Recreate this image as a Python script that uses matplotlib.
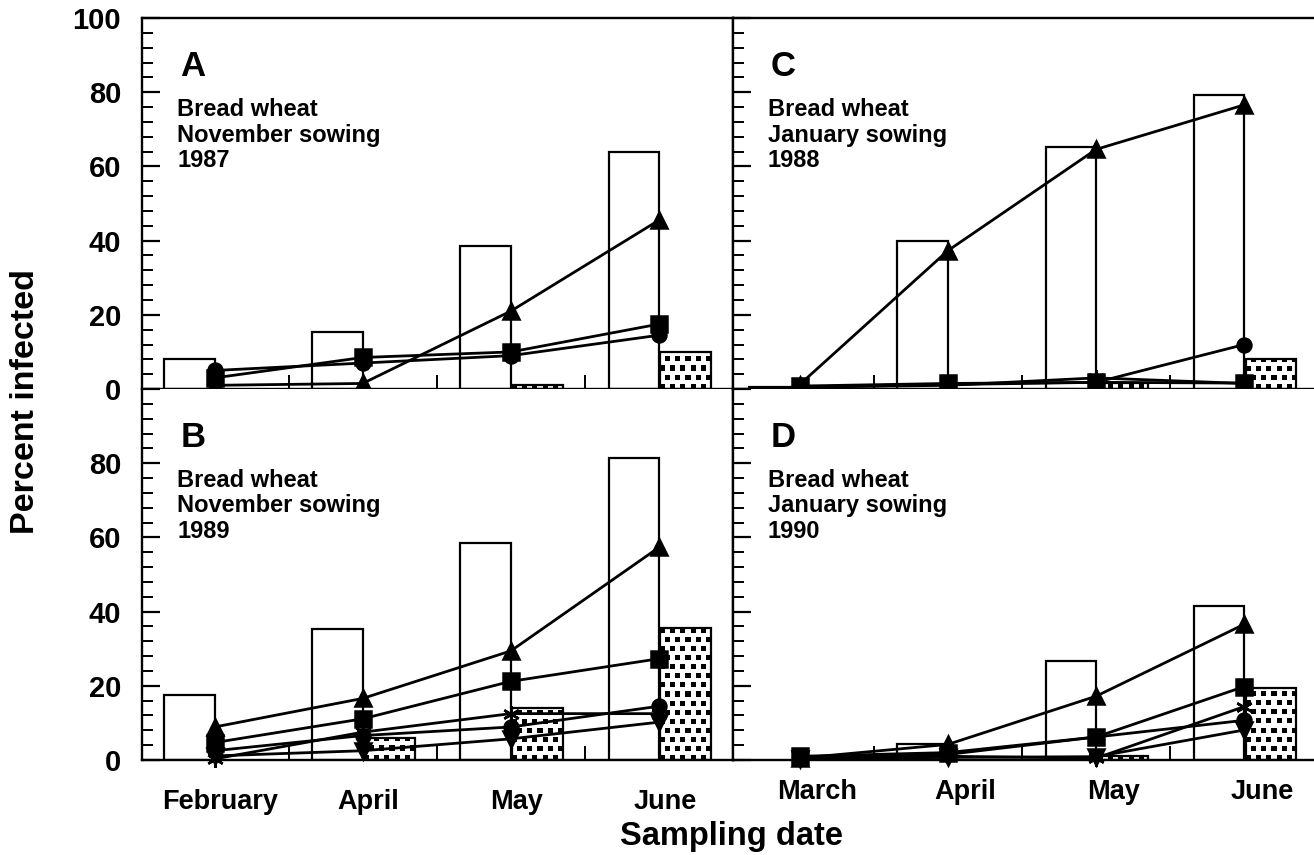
import numpy as np
import matplotlib
matplotlib.use('Agg')
import matplotlib.pyplot as plt

plt.rcParams['font.family'] = ['Liberation Sans', 'DejaVu Sans']
plt.rcParams['font.weight'] = 'bold'

months_nov = ['February', 'April', 'May', 'June']
months_jan = ['March', 'April', 'May', 'June']

# A: bread wheat, November sowing 1987
a_open = [8, 15.5, 38.5, 64]
a_stip = [0, 0, 1, 10]
a_tri = [1, 1.5, 21, 45.5]
a_sq = [3, 8.5, 10, 17.5]
a_circ = [5, 7, 9, 14.5]

# B: bread wheat, November sowing 1989
b_open = [17.4, 35.4, 58.6, 81.4]
b_stip = [0, 6, 14, 35.7]
b_tri = [8.9, 16.6, 29.4, 57.3]
b_sq = [4.7, 11.1, 21.2, 27.3]
b_circ = [2.5, 6.6, 8.9, 14.5]
b_star = [0.3, 7.5, 12.5, 12.5]
b_down = [1.1, 2.5, 5.7, 10.2]

# C: bread wheat, January sowing 1988
c_open = [0.5, 39.8, 65.3, 79.2]
c_stip = [0, 0, 1.5, 8]
c_tri = [1.2, 37.3, 64.6, 76.6]
c_sq = [0.8, 1.5, 1.8, 1.6]
c_circ = [0.5, 1.2, 1.8, 12]
c_star = [0.5, 1, 3, 1.5]

# D: bread wheat, January sowing 1990
d_open = [0, 4.3, 26.8, 41.4]
d_stip = [0, 0, 1.2, 19.5]
d_tri = [0.5, 4.2, 17.2, 36.6]
d_sq = [1, 2, 6.2, 19.8]
d_circ = [0.5, 1.5, 6.2, 10.7]
d_star = [0.3, 1, 0.5, 14.4]
d_down = [0.3, 0.7, 0.9, 8.1]

panels = [
    ('A', 'Bread wheat\nNovember sowing\n1987', months_nov, a_open, a_stip,
     [('^', a_tri), ('s', a_sq), ('o', a_circ)]),
    ('B', 'Bread wheat\nNovember sowing\n1989', months_nov, b_open, b_stip,
     [('^', b_tri), ('s', b_sq), ('o', b_circ), ((6, 2, 0), b_star), ('v', b_down)]),
    ('C', 'Bread wheat\nJanuary sowing\n1988', months_jan, c_open, c_stip,
     [('^', c_tri), ('s', c_sq), ('o', c_circ), ((6, 2, 0), c_star)]),
    ('D', 'Bread wheat\nJanuary sowing\n1990', months_jan, d_open, d_stip,
     [('^', d_tri), ('s', d_sq), ('o', d_circ), ((6, 2, 0), d_star), ('v', d_down)]),
]

fig = plt.figure(figsize=(13.14, 8.55), dpi=100)
L, M, R = 0.1081, 0.5578, 1.0
B, H, T = 0.1111, 0.5450, 0.9789
axes = [fig.add_axes([L, H, M - L, T - H]),
        fig.add_axes([L, B, M - L, H - B]),
        fig.add_axes([M, H, R - M, T - H]),
        fig.add_axes([M, B, R - M, H - B])]
xlims = [(-0.49, 3.5), (-0.49, 3.5), (-0.45, 3.47), (-0.45, 3.47)]
label_shift = [0.04, 0.04, 0.12, 0.12]
bw = 0.34


def stipple_bar(ax, x0, w, h):
    ax.bar(x0, h, w, align='edge', facecolor='white', edgecolor='none', zorder=2)
    p0 = ax.transData.transform((x0, 0))
    p1 = ax.transData.transform((x0 + w, h))
    nx = max(int(round(p1[0] - p0[0])), 1)
    ny = max(int(round(p1[1] - p0[1])), 1)
    yy, xx = np.mgrid[0:ny, 0:nx]
    shift = ((yy // 9) % 2) * 5
    dots = (((xx + shift) % 10) < 5) & ((yy % 9) < 5)
    dots = dots[::-1]
    ax.imshow(~dots, cmap='gray', vmin=0, vmax=1, extent=(x0, x0 + w, 0, h),
              aspect='auto', interpolation='nearest', zorder=2.2)
    ax.bar(x0, h, w, align='edge', fill=False, edgecolor='black', lw=1.6, zorder=2.4)


for k, (ax, (letter, desc, months, opn, stp, series)) in enumerate(zip(axes, panels)):
    x = np.arange(len(months))
    ax.set_xlim(*xlims[k])
    ax.set_ylim(0, 100)
    for i in x:
        if opn[i] > 0:
            ax.bar(i - bw, opn[i], bw, align='edge', facecolor='white',
                   edgecolor='black', lw=1.6, zorder=2)
        if stp[i] > 0:
            stipple_bar(ax, i + 0.01, bw, stp[i])
    for mk, vals in series:
        ms = 10 if mk == 'o' else 12
        ax.plot(x, vals, color='black', lw=2.0, marker=mk, ms=ms, mew=1.8,
                mfc='black', mec='black', zorder=4, clip_on=False)
    ax.set_xlim(*xlims[k])
    ax.set_ylim(0, 100)

    ax.text(0.065, 0.845, letter, transform=ax.transAxes, fontsize=25,
            fontweight='bold', va='baseline', ha='left')
    ax.text(0.06, 0.785, desc, transform=ax.transAxes, fontsize=17,
            fontweight='bold', va='top', ha='left', linespacing=1.15)

    ax.set_yticks(range(0, 101, 20))
    ax.set_yticks(range(0, 101, 4), minor=True)
    ax.tick_params(axis='y', which='major', direction='in', length=13, width=1.6,
                   labelsize=21, pad=15)
    ax.tick_params(axis='y', which='minor', direction='in', length=8, width=1.4)
    ax.set_xticks(x + label_shift[k], months)
    ax.set_xticks([0.5, 1.5, 2.5], minor=True)
    ax.tick_params(axis='x', which='major', length=0, labelsize=19.5,
                   pad=21 if k < 2 else 14)
    ax.tick_params(axis='x', which='minor', direction='in', length=10, width=1.4)
    for s in ax.spines.values():
        s.set_linewidth(1.7)
    ax.spines['right'].set_visible(k < 2)
    ax.spines['top'].set_visible(k in (0, 2))
    if k in (0, 2):
        ax.tick_params(axis='x', labelbottom=False)
    if k >= 2:
        ax.tick_params(axis='y', labelleft=False)
    if k == 1:
        ax.set_yticklabels(['0', '20', '40', '60', '80', ''])

fig.text(26 / 1314, 1 - 402 / 855, 'Percent infected', rotation=90, fontsize=24.5,
         fontweight='bold', ha='center', va='center')
fig.text(732 / 1314, 1 - 836 / 855, 'Sampling date', fontsize=23.5,
         fontweight='bold', ha='center', va='center')

fig.savefig('out.png', dpi=100)
